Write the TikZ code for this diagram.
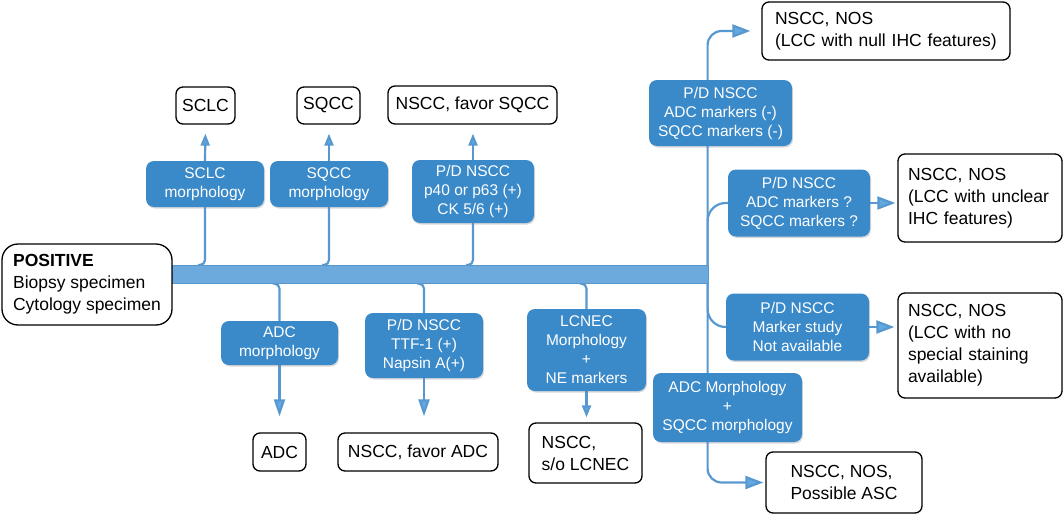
\documentclass[tikz,border=0pt]{standalone}
\usepackage{fontspec}
\setmainfont{Liberation Sans}
\usetikzlibrary{arrows.meta,shadows,backgrounds}
\definecolor{boxblue}{RGB}{58,137,201}
\definecolor{barblue}{RGB}{108,170,222}
\definecolor{lineblue}{RGB}{88,152,208}
\definecolor{tipblue}{RGB}{100,168,224}
\begin{document}
\begin{tikzpicture}[x=1pt,y=-1pt,
  bb/.style={rectangle, rounded corners=8pt, fill=boxblue, text=white,
    font=\fontsize{15.5}{19}\selectfont, align=center, inner sep=0pt,
    drop shadow={opacity=0.3,shadow xshift=1pt,shadow yshift=-1.5pt}},
  wb/.style={rectangle, rounded corners=7pt, draw=black, line width=1.3pt, fill=white,
    font=\fontsize{17.5}{22}\selectfont, inner sep=0pt},
  conn/.style={draw=lineblue, line width=2.2pt},
  arrup/.style={conn, -{Triangle[length=12pt,width=9pt,fill=tipblue]}},
  arrdn/.style={conn, -{Triangle[length=17pt,width=11pt,fill=tipblue]}},
  arrrt/.style={conn, -{Triangle[length=18pt,width=13pt,fill=tipblue]}},
]
\useasboundingbox (0,0) rectangle (1063,514);

% bar
\node[fill=barblue, draw=lineblue, line width=0.6pt, minimum width=536pt, minimum height=18pt,
  inner sep=0pt, anchor=north west] (bar) at (172,265) {};

% start box
\node[wb, rounded corners=16pt, minimum width=170pt, minimum height=81pt, align=left] (pos) at (87,284.5)
  {\textbf{POSITIVE}\\Biopsy specimen\\Cytology specimen};

% blue boxes
\node[bb, minimum width=118pt, minimum height=46pt] (sclcm) at (205,184) {SCLC\\morphology};
\node[bb, minimum width=118pt, minimum height=46pt] (sqccm) at (329,184) {SQCC\\morphology};
\node[bb, minimum width=122pt, minimum height=63pt] (pdsq) at (473,191.5) {P/D NSCC\\p40 or p63 (+)\\CK 5/6 (+)};
\node[bb, minimum width=117pt, minimum height=44pt] (adcm) at (279.5,343) {ADC\\morphology};
\node[bb, minimum width=118pt, minimum height=65pt] (pdadc) at (424,345.5) {P/D NSCC\\TTF-1 (+)\\Napsin A(+)};
\node[bb, minimum width=119pt, minimum height=82pt] (lcnec) at (586.5,350) {LCNEC\\Morphology\\+\\NE markers};
\node[bb, minimum width=143pt, minimum height=66pt] (pdneg) at (720.5,113) {P/D NSCC\\ADC markers (-)\\SQCC markers (-)};
\node[bb, minimum width=142pt, minimum height=67pt] (pdq) at (799,203) {P/D NSCC\\ADC markers ?\\SQCC markers ?};
\node[bb, minimum width=143pt, minimum height=67pt] (pdna) at (797.5,327) {P/D NSCC\\Marker study\\Not available};
\node[bb, minimum width=149pt, minimum height=69pt] (adcsq) at (727.5,407.5) {ADC Morphology\\+\\SQCC morphology};

% white result boxes
\node[wb, minimum width=59pt, minimum height=37pt] (sclc) at (205.5,105.5) {SCLC};
\node[wb, minimum width=63pt, minimum height=37pt] (sqcc) at (328.5,105.5) {SQCC};
\node[wb, minimum width=169pt, minimum height=38pt] (fsq) at (472.5,105) {NSCC, favor SQCC};
\node[wb, minimum width=53pt, minimum height=38pt] (adc) at (279.5,452) {ADC};
\node[wb, minimum width=160pt, minimum height=38pt] (fadc) at (418,452) {NSCC, favor ADC};
\node[wb, minimum width=113pt, minimum height=60pt, align=left] (slc) at (585.5,453) {NSCC,\\s/o LCNEC};
\node[wb, minimum height=58pt, inner xsep=13pt, text width=222pt, align=left] (nos1) at (886,31)
  {NSCC, NOS\\(LCC with null IHC features)};
\node[wb, minimum height=88pt, inner xsep=10pt, text width=144pt, align=left] (nos2) at (980,198)
  {NSCC, NOS\\(LCC with unclear\\IHC features)};
\node[wb, minimum height=105pt, inner xsep=10pt, text width=144pt, align=left] (nos3) at (980,345.5)
  {NSCC, NOS\\(LCC with no\\special staining\\available)};
\node[wb, minimum width=156pt, minimum height=61pt, align=left] (nos4) at (844,482.5)
  {NSCC, NOS,\\Possible ASC};

% connectors (drawn behind boxes)
\begin{scope}[on background layer]
  % upward branches
  \draw[conn, rounded corners=5pt] ([xshift=-7pt]sclcm.south |- bar.north) -| (sclcm.south);
  \draw[arrup, shorten >=9pt] (sclcm.north) -- (sclc.south);
  \draw[conn, rounded corners=5pt] ([xshift=-7pt]sqccm.south |- bar.north) -| (sqccm.south);
  \draw[arrup, shorten >=9pt] (sqccm.north) -- (sqccm.north |- sqcc.south);
  \draw[conn, rounded corners=5pt] ([xshift=-7pt]pdsq.south |- bar.north) -| (pdsq.south);
  \draw[arrup, shorten >=9pt] (pdsq.north) -- (pdsq.north |- fsq.south);
  % downward branches
  \draw[conn, rounded corners=5pt] ([xshift=-7pt]adcm.north |- bar.south) -| (adcm.north);
  \draw[arrdn, shorten >=16pt] (adcm.south) -- (adcm.south |- adc.north);
  \draw[conn, rounded corners=5pt] ([xshift=-7pt]pdadc.north |- bar.south) -| (pdadc.north);
  \draw[arrdn, shorten >=16pt] (pdadc.south) -- (pdadc.south |- fadc.north);
  \draw[conn, rounded corners=5pt] ([xshift=-7pt]lcnec.north |- bar.south) -| (lcnec.north);
  \draw[arrup, shorten >=5pt] (lcnec.south) -- (lcnec.south |- slc.north);
  % right trunk
  \coordinate (tt) at ([xshift=-1pt]bar.north east);
  \coordinate (tb) at ([xshift=-1pt]bar.south east);
  \draw[arrrt, rounded corners=14pt, shorten >=11pt] (tt) |- (nos1.west);
  \draw[conn, rounded corners=18pt] (tt) |- (pdq.west);
  \draw[arrrt, shorten >=2pt] (pdq.east) -- (pdq.east -| nos2.west);
  \draw[conn, rounded corners=18pt] (tb) |- (pdna.west);
  \draw[arrrt, shorten >=3pt] (pdna.east) -- (pdna.east -| nos3.west);
  \draw[arrrt, rounded corners=14pt, shorten >=2pt] (tb) |- (nos4.west);
\end{scope}
\end{tikzpicture}
\end{document}
